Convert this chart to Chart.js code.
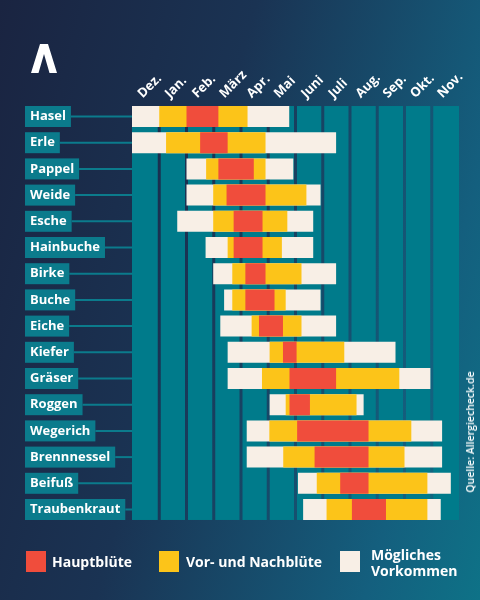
<!DOCTYPE html>
<html>
<head>
<meta charset="utf-8">
<script src="https://cdn.jsdelivr.net/npm/chart.js@4/dist/chart.umd.min.js"></script>
<style>
  html, body { margin: 0; padding: 0; }
  #wrap {
    position: relative; width: 480px; height: 600px; overflow: hidden;
    background: linear-gradient(105deg, #1a2441 0%, #1a3353 40%, #145f7e 82%, #0e7287 100%);
    font-family: "Open Sans", "Noto Sans", sans-serif; color: #fff;
  }
  #c { position: absolute; left: 0; top: 0; }
  .sw { position: absolute; width: 20px; height: 21px; top: 551px; }
  .lt { position: absolute; font-size: 14px; font-weight: 700; line-height: 16px; white-space: nowrap; }
  #src { position: absolute; left: 470px; top: 432px; transform: translate(-50%, -50%) rotate(-90deg);
    font-size: 10.5px; font-weight: 600; white-space: nowrap; }
  #logo { position: absolute; left: 0; top: 0; }
</style>
</head>
<body>
<div id="wrap">
  <svg id="logo" width="80" height="90"><polygon points="31,73 40,44 48,44 57,73 49.5,73 44,54 38.5,73" fill="#ffffff"/></svg>
  <canvas id="c" width="480" height="600"></canvas>
  <div class="sw" style="left:26px;background:#f04d3c"></div>
  <div class="lt" style="left:52px;top:554px">Hauptblüte</div>
  <div class="sw" style="left:159px;background:#fcc419"></div>
  <div class="lt" style="left:186px;top:554px">Vor- und Nachblüte</div>
  <div class="sw" style="left:340px;background:#f8efe6"></div>
  <div class="lt" style="left:371px;top:547px">Mögliches<br>Vorkommen</div>
  <div id="src">Quelle: Allergiecheck.de</div>
</div>
<script>
const plants = ['Hasel','Erle','Pappel','Weide','Esche','Hainbuche','Birke','Buche','Eiche','Kiefer','Gräser','Roggen','Wegerich','Brennnessel','Beifuß','Traubenkraut'];
const months = ['Dez.','Jan.','Feb.','März','Apr.','Mai','Juni','Juli','Aug.','Sep.','Okt.','Nov.'];

// months counted from start of December (0) to end of November (12)
const possible = [[0,5.77],[0,7.49],[2.0,5.92],[2.0,6.92],[1.66,6.65],[2.7,6.65],[2.98,7.49],[3.38,6.92],
                  [3.24,7.49],[3.51,9.67],[3.51,10.95],[5.05,8.5],[4.21,11.38],[4.21,11.38],[6.09,11.7],[6.28,11.33]];
const prePost  = [[1.0,4.24],[1.25,4.9],[2.72,4.9],[2.98,6.4],[2.98,5.7],[3.51,5.5],[3.68,6.22],[3.68,5.64],
                  [4.39,6.22],[5.05,7.79],[4.77,9.81],[5.64,8.24],[5.04,10.25],[5.55,10.0],[6.78,10.84],[7.14,10.84]];
const mainBloom = [[2.0,3.17],[2.5,3.51],[3.17,4.47],[3.47,4.9],[3.73,4.79],[3.73,4.79],[4.16,4.9],[4.16,5.23],
                  [4.66,5.54],[5.54,6.04],[5.78,7.49],[5.78,6.53],[6.06,8.68],[6.7,8.68],[7.64,8.68],[8.07,9.32]];

const COL_TEAL = '#007b8b';
const LABEL_TEAL = '#0b7b8c';
const LABEL_FONT = { family: 'Open Sans', size: 13, weight: 'bold' };

// teal month columns behind the bars
const columnsPlugin = {
  id: 'columns',
  beforeDatasetsDraw(chart) {
    const {ctx, scales: {x, y}} = chart;
    const step = y.getPixelForValue(1) - y.getPixelForValue(0);
    const half = step * 0.8 / 2;
    const top = y.getPixelForValue(0) - half;
    const bottom = y.getPixelForValue(plants.length - 1) + half;
    ctx.save();
    ctx.fillStyle = COL_TEAL;
    for (let i = 0; i < months.length; i++) {
      const l = x.getPixelForValue(i) + (i === 0 ? 0 : 1.5);
      const r = x.getPixelForValue(i + 1) - (i === months.length - 1 ? 0 : 1.5);
      ctx.fillRect(l, top, r - l, bottom - top);
    }
    ctx.restore();
  }
};

// label boxes + connector lines behind the y tick labels
const labelBoxPlugin = {
  id: 'labelBoxes',
  beforeDraw(chart) {
    const {ctx, chartArea, scales: {y}} = chart;
    ctx.save();
    ctx.font = `${LABEL_FONT.weight} ${LABEL_FONT.size}px "${LABEL_FONT.family}"`;
    const textLeft = y.left;
    plants.forEach((p, i) => {
      const py = y.getPixelForValue(i);
      const w = ctx.measureText(p).width;
      const boxL = textLeft - 5, boxR = textLeft + w + 5;
      ctx.strokeStyle = LABEL_TEAL; ctx.lineWidth = 2;
      ctx.beginPath(); ctx.moveTo(boxR, py); ctx.lineTo(chartArea.left, py); ctx.stroke();
      ctx.fillStyle = LABEL_TEAL;
      ctx.fillRect(boxL, py - 10.5, boxR - boxL, 21);
    });
    ctx.restore();
  }
};

const ds = (label, data, color, order) => ({
  label, data, backgroundColor: color, borderWidth: 0, borderSkipped: false,
  grouped: false, categoryPercentage: 1, barPercentage: 0.8, order
});

new Chart(document.getElementById('c'), {
  type: 'bar',
  data: {
    labels: plants,
    datasets: [
      ds('Hauptblüte', mainBloom, '#f04d3c', 1),
      ds('Vor- und Nachblüte', prePost, '#fcc419', 2),
      ds('Mögliches Vorkommen', possible, '#f8efe6', 3)
    ]
  },
  options: {
    indexAxis: 'y',
    responsive: false,
    animation: false,
    layout: { padding: { left: 30, right: 21, top: 0, bottom: 77.4 } },
    plugins: { legend: { display: false }, tooltip: { enabled: false } },
    scales: {
      x: {
        type: 'linear', position: 'top', min: 0, max: 12,
        grid: { display: false }, border: { display: false },
        afterBuildTicks: (s) => { s.ticks = months.map((m, i) => ({ value: i + 0.7 })); },
        afterFit: (s) => { s.height = 103.4; s.paddingLeft = 0; s.paddingRight = 0; },
        ticks: {
          autoSkip: false, minRotation: 45, maxRotation: 45, padding: -6,
          color: '#ffffff', font: { family: 'Open Sans', size: 13, weight: 'bold' },
          callback: (v, i) => months[i]
        }
      },
      y: {
        type: 'category',
        grid: { display: false },
        border: { display: false },
        afterFit: (s) => { s.width = 102; },
        ticks: {
          autoSkip: false, crossAlign: 'far', padding: 0,
          color: '#ffffff', font: LABEL_FONT
        }
      }
    }
  },
  plugins: [columnsPlugin, labelBoxPlugin]
});
</script>
</body>
</html>
